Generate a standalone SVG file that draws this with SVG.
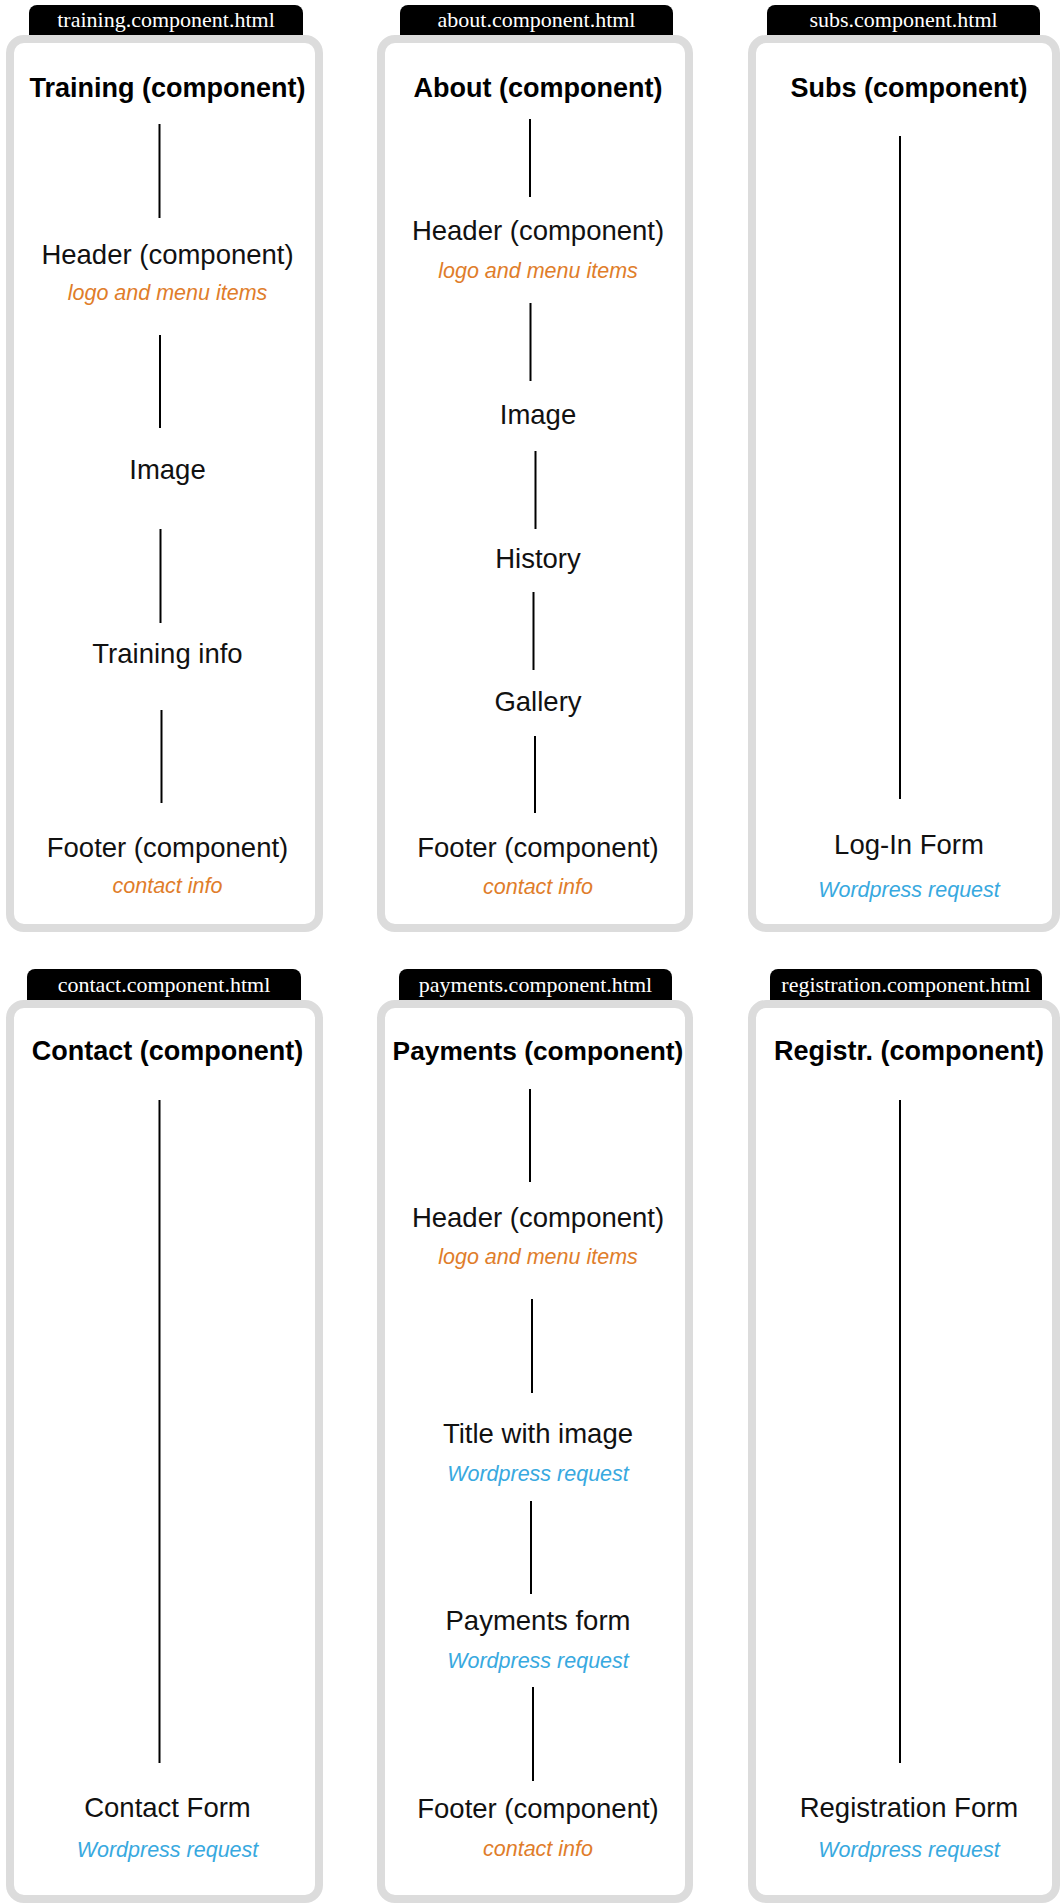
<svg xmlns="http://www.w3.org/2000/svg" width="1061" height="1904" viewBox="0 0 1061 1904">
  <style>
    .frame { fill: #ffffff; stroke: #dcdcdc; stroke-width: 8; }
    .tab { fill: #000000; }
    .tabtext { font-family: "Liberation Serif", "DejaVu Serif", serif; font-size: 22px; fill: #ffffff; text-anchor: middle; }
    .title { font-family: "Liberation Sans", Arial, sans-serif; font-size: 27px; font-weight: bold; fill: #000000; text-anchor: middle; }
    .item { font-family: "Liberation Sans", Arial, sans-serif; font-size: 27.5px; fill: #111111; text-anchor: middle; }
    .note { font-family: "Liberation Sans", Arial, sans-serif; font-size: 21.5px; font-style: italic; text-anchor: middle; }
    .orange { fill: #e07d2a; }
    .blue { fill: #38a9e0; }
    .link { stroke: #000000; stroke-width: 2; fill: none; }
  </style>
  <rect x="0" y="0" width="1061" height="1904" fill="#ffffff"/>

  <!-- Row 1 -->
  <g id="training">
    <path class="tab" d="M29,40 V13 a8,8 0 0 1 8,-8 H295 a8,8 0 0 1 8,8 V40 Z"/>
    <text class="tabtext" x="166" y="27">training.component.html</text>
    <rect class="frame" x="10" y="39" width="309" height="889" rx="14"/>
    <text class="title" x="167.5" y="97">Training (component)</text>
  </g>
  <g id="training-header">
    <text class="item" x="167.5" y="264">Header (component)</text>
    <text class="note orange" x="167.5" y="300">logo and menu items</text>
  </g>
  <g id="training-image"><text class="item" x="167.5" y="479">Image</text></g>
  <g id="training-info"><text class="item" x="167.5" y="663">Training info</text></g>
  <g id="training-footer">
    <text class="item" x="167.5" y="857">Footer (component)</text>
    <text class="note orange" x="167.5" y="893">contact info</text>
  </g>

  <g id="about">
    <path class="tab" d="M400,40 V13 a8,8 0 0 1 8,-8 H665 a8,8 0 0 1 8,8 V40 Z"/>
    <text class="tabtext" x="536.5" y="27">about.component.html</text>
    <rect class="frame" x="381" y="39" width="308" height="889" rx="14"/>
    <text class="title" x="538" y="97">About (component)</text>
  </g>
  <g id="about-header">
    <text class="item" x="538" y="240">Header (component)</text>
    <text class="note orange" x="538" y="278">logo and menu items</text>
  </g>
  <g id="about-image"><text class="item" x="538" y="424">Image</text></g>
  <g id="about-history"><text class="item" x="538" y="568">History</text></g>
  <g id="about-gallery"><text class="item" x="538" y="711">Gallery</text></g>
  <g id="about-footer">
    <text class="item" x="538" y="857">Footer (component)</text>
    <text class="note orange" x="538" y="894">contact info</text>
  </g>

  <g id="subs">
    <path class="tab" d="M767,40 V13 a8,8 0 0 1 8,-8 H1032 a8,8 0 0 1 8,8 V40 Z"/>
    <text class="tabtext" x="903.5" y="27">subs.component.html</text>
    <rect class="frame" x="752" y="39" width="304" height="889" rx="14"/>
    <text class="title" x="909" y="97">Subs (component)</text>
  </g>
  <g id="subs-login">
    <text class="item" x="909" y="854">Log-In Form</text>
    <text class="note blue" x="909" y="897">Wordpress request</text>
  </g>

  <!-- Row 2 -->
  <g id="contact">
    <path class="tab" d="M27,1005 V977 a8,8 0 0 1 8,-8 H293 a8,8 0 0 1 8,8 V1005 Z"/>
    <text class="tabtext" x="164" y="992">contact.component.html</text>
    <rect class="frame" x="10" y="1004" width="309" height="895" rx="14"/>
    <text class="title" x="167.5" y="1060">Contact (component)</text>
  </g>
  <g id="contact-form">
    <text class="item" x="167.5" y="1817">Contact Form</text>
    <text class="note blue" x="167.5" y="1857">Wordpress request</text>
  </g>

  <g id="payments">
    <path class="tab" d="M399,1005 V977 a8,8 0 0 1 8,-8 H664 a8,8 0 0 1 8,8 V1005 Z"/>
    <text class="tabtext" x="535.5" y="992">payments.component.html</text>
    <rect class="frame" x="381" y="1004" width="308" height="895" rx="14"/>
    <text class="title" x="538" y="1060" style="font-size:26.3px">Payments (component)</text>
  </g>
  <g id="payments-header">
    <text class="item" x="538" y="1227">Header (component)</text>
    <text class="note orange" x="538" y="1264">logo and menu items</text>
  </g>
  <g id="payments-title">
    <text class="item" x="538" y="1443">Title with image</text>
    <text class="note blue" x="538" y="1481">Wordpress request</text>
  </g>
  <g id="payments-form">
    <text class="item" x="538" y="1630">Payments form</text>
    <text class="note blue" x="538" y="1668">Wordpress request</text>
  </g>
  <g id="payments-footer">
    <text class="item" x="538" y="1818">Footer (component)</text>
    <text class="note orange" x="538" y="1856">contact info</text>
  </g>

  <g id="registration">
    <path class="tab" d="M770,1005 V977 a8,8 0 0 1 8,-8 H1034 a8,8 0 0 1 8,8 V1005 Z"/>
    <text class="tabtext" x="906" y="992">registration.component.html</text>
    <rect class="frame" x="752" y="1004" width="304" height="895" rx="14"/>
    <text class="title" x="909" y="1060">Registr. (component)</text>
  </g>
  <g id="registration-form">
    <text class="item" x="909" y="1817">Registration Form</text>
    <text class="note blue" x="909" y="1857">Wordpress request</text>
  </g>

  <!-- Connectors -->
  <g id="connectors" class="link">
    <line x1="159.5" y1="124" x2="159.5" y2="218"/>
    <line x1="160" y1="335" x2="160" y2="428"/>
    <line x1="160.5" y1="529" x2="160.5" y2="623"/>
    <line x1="161.5" y1="710" x2="161.5" y2="803"/>

    <line x1="530" y1="119" x2="530" y2="197"/>
    <line x1="530.5" y1="303" x2="530.5" y2="381"/>
    <line x1="535.5" y1="451" x2="535.5" y2="529"/>
    <line x1="533.5" y1="592" x2="533.5" y2="670"/>
    <line x1="535" y1="736" x2="535" y2="813"/>

    <line x1="900" y1="136" x2="900" y2="799"/>

    <line x1="159.5" y1="1100" x2="159.5" y2="1763"/>

    <line x1="530" y1="1089" x2="530" y2="1182"/>
    <line x1="532" y1="1299" x2="532" y2="1393"/>
    <line x1="531" y1="1501" x2="531" y2="1594"/>
    <line x1="533" y1="1687" x2="533" y2="1781"/>

    <line x1="900" y1="1100" x2="900" y2="1763"/>
  </g>
</svg>
